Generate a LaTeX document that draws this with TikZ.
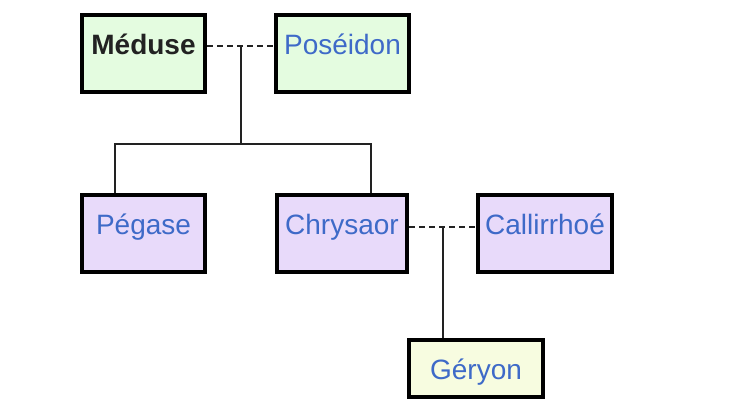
\documentclass[tikz,border=0pt]{standalone}
\usepackage{fontspec}
\setmainfont{Liberation Sans}
\usetikzlibrary{calc}
\definecolor{gfill}{RGB}{228,252,224}
\definecolor{pfill}{RGB}{232,218,250}
\definecolor{yfill}{RGB}{247,252,224}
\definecolor{tblue}{RGB}{62,106,200}
\definecolor{tdark}{RGB}{34,34,34}
\definecolor{lcol}{RGB}{34,34,34}
\tikzset{
  person/.style={draw=black, line width=4pt, inner xsep=0pt, inner ysep=0pt,
    text height=40pt, text depth=37pt, font=\fontsize{28}{32}\selectfont,
    text=tblue, minimum width=#1},
  person/.default=123pt,
  short/.style={text depth=17pt},
  rel/.style={draw=lcol, line width=2pt},
  marriage/.style={rel, dash pattern=on 6pt off 4pt}
}
\begin{document}
\begin{tikzpicture}[x=1pt,y=-1pt]
\useasboundingbox (0,0) rectangle (732,414);
\fill[white] (0,0) rectangle (732,414);
\node[person=123pt, fill=gfill, text=tdark, font=\fontsize{28}{32}\selectfont\bfseries] (meduse) at (143.5,53.5) {Méduse};
\node[person=133pt, fill=gfill] (poseidon) at (342.5,53.5) {Poséidon};
\node[person=123pt, fill=pfill] (pegase) at (143.5,233.5) {Pégase};
\node[person=130pt, fill=pfill] (chrysaor) at (342,233.5) {Chrysaor};
\node[person=134pt, fill=pfill] (callirrhoe) at (545,233.5) {Callirrhoé};
\node[person=134pt, short, fill=yfill, anchor=north] (geryon) at (476,338) {Géryon};
% marriage 1
\coordinate (a1) at ([yshift=8.5pt]meduse.base east);
\coordinate (b1) at (a1 -| poseidon.west);
\coordinate (m1) at ($(a1)!0.5!(b1)$);
\draw[marriage] (a1) -- (b1);
\coordinate (bar) at (0,144);
\coordinate (pL) at ([xshift=-28.5pt]pegase.north);
\coordinate (pR) at ([xshift=29pt]chrysaor.north);
\draw[rel] (m1) -- (m1 |- bar);
\draw[rel] (pL) -- (pL |- bar) -- (pR |- bar) -- (pR);
% marriage 2
\coordinate (a2) at ([yshift=8pt]chrysaor.base east);
\coordinate (b2) at (a2 -| callirrhoe.west);
\coordinate (m2) at ($(a2)!0.5!(b2)$);
\draw[marriage] (a2) -- (b2);
\draw[rel] (m2) -- (m2 |- geryon.north);
\end{tikzpicture}
\end{document}
